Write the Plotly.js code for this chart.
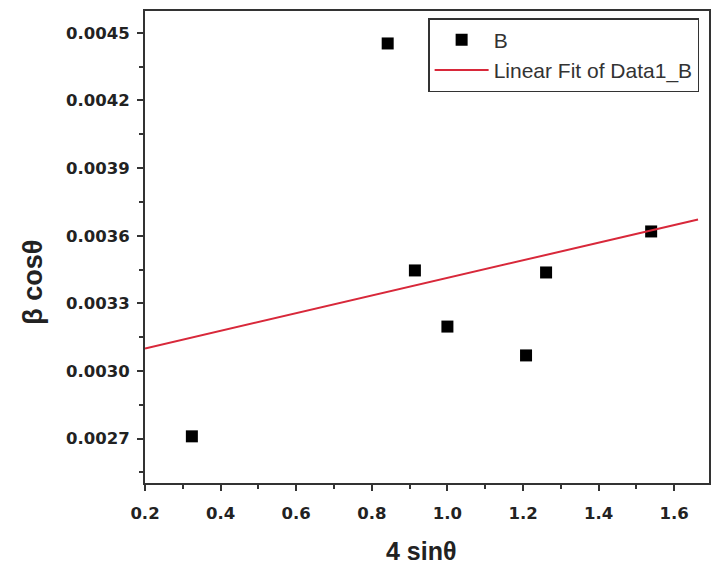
<!DOCTYPE html>
<html>
<head>
<meta charset="utf-8">
<script src="https://cdn.plot.ly/plotly-3.0.1.min.js"></script>
<style>html,body{margin:0;padding:0;background:#fff;}#chart{width:717px;height:567px;}</style>
</head>
<body>
<div id="chart"></div>
<script>
// Data
const pointX = [0.324, 0.842, 0.914, 1.000, 1.208, 1.261, 1.539];
const pointY = [0.00271, 0.004453, 0.003446, 0.003197, 0.003069, 0.003437, 0.003619];
const fitX = [0.2, 1.663];
const fitY = [0.0031, 0.003672];
const xTicks = [0.2, 0.4, 0.6, 0.8, 1.0, 1.2, 1.4, 1.6];
const xTickText = ["0.2", "0.4", "0.6", "0.8", "1.0", "1.2", "1.4", "1.6"];
const yTicks = [0.0027, 0.0030, 0.0033, 0.0036, 0.0039, 0.0042, 0.0045];
const yTickText = ["0.0027", "0.0030", "0.0033", "0.0036", "0.0039", "0.0042", "0.0045"];

const tickFont = {family: "DejaVu Sans", size: 16.5, color: "#222", weight: "bold"};
const axisCommon = {
  showgrid: false, zeroline: false, showline: true, linecolor: "#333", linewidth: 2,
  mirror: true, ticks: "outside", ticklen: 6, tickwidth: 2, tickcolor: "#333",
  tickfont: tickFont, tickmode: "array"
};

const data = [
  {x: pointX, y: pointY, mode: "markers", type: "scatter", name: "B",
   marker: {symbol: "square", size: 12, color: "#000"}},
  {x: fitX, y: fitY, mode: "lines", type: "scatter", name: "Linear Fit of Data1_B",
   line: {color: "#d8283a", width: 2}}
];

const layout = {
  width: 717, height: 567,
  margin: {l: 145, r: 8, t: 11, b: 84},
  paper_bgcolor: "#fff", plot_bgcolor: "#fff",
  showlegend: true,
  legend: {x: 0.502, y: 0.985, xanchor: "left", yanchor: "top", itemwidth: 54,
           bordercolor: "#333", borderwidth: 1.5, bgcolor: "#fff",
           font: {family: "Liberation Sans", size: 21, color: "#333"}, tracegroupgap: 0},
  xaxis: Object.assign({}, axisCommon, {
    range: [0.2, 1.692], tickvals: xTicks, ticktext: xTickText, ticklabelstandoff: 8,
    minor: {ticks: "outside", ticklen: 4, tickwidth: 2, tickcolor: "#333", dtick: 0.1, tick0: 0.1}
  }),
  yaxis: Object.assign({}, axisCommon, {
    range: [0.002503, 0.004597], tickvals: yTicks, ticktext: yTickText, ticklabelstandoff: 4,
    minor: {ticks: "outside", ticklen: 4, tickwidth: 2, tickcolor: "#333", dtick: 0.00015, tick0: 0.00255}
  }),
  annotations: [
    {text: "4 sinθ", xref: "paper", yref: "paper", x: 0.489, y: -0.145, xanchor: "center", yanchor: "middle",
     showarrow: false, font: {family: "Liberation Sans", size: 25, color: "#222", weight: "bold"}},
    {text: "β cosθ", xref: "paper", yref: "paper", x: -0.199, y: 0.426, xanchor: "center", yanchor: "middle",
     textangle: -90, showarrow: false, font: {family: "Liberation Sans", size: 27, color: "#222", weight: "bold"}}
  ]
};

Plotly.newPlot("chart", data, layout, {displayModeBar: false, staticPlot: true});
</script>
</body>
</html>
